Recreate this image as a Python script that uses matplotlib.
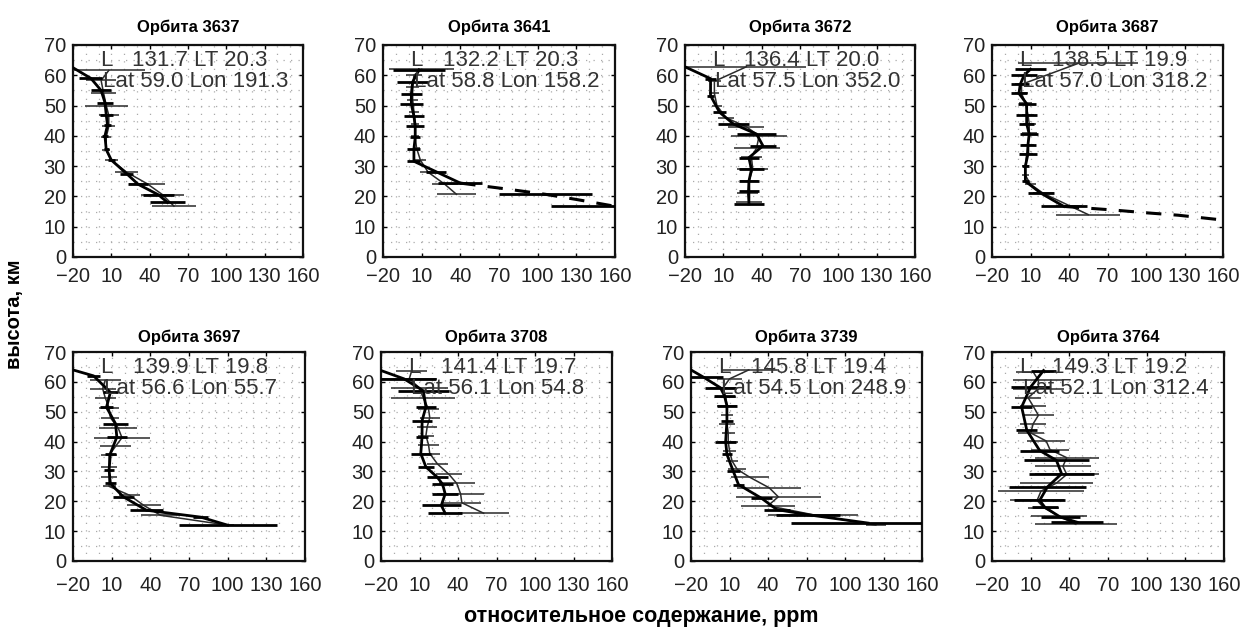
import matplotlib
matplotlib.use("Agg")
import matplotlib.pyplot as plt
from matplotlib.ticker import MultipleLocator, FixedLocator

plt.rcParams['font.family'] = ['Liberation Sans', 'DejaVu Sans']

# ---------------- data ----------------
orbits = ["3637", "3641", "3672", "3687", "3697", "3708", "3739", "3764"]
L_vals = ["131.7", "132.2", "136.4", "138.5", "139.9", "141.4", "145.8", "149.3"]
LT_vals = ["20.3", "20.3", "20.0", "19.9", "19.8", "19.7", "19.4", "19.2"]
Lat_vals = ["59.0", "58.8", "57.5", "57.0", "56.6", "56.1", "54.5", "52.1"]
Lon_vals = ["191.3", "158.2", "352.0", "318.2", "55.7", "54.8", "248.9", "312.4"]
x_ticks = [-20, 10, 40, 70, 100, 130, 160]
y_ticks = [0, 10, 20, 30, 40, 50, 60, 70]

# Orbit 3637
a_alt_3637 = [18, 20.5, 24, 27.5, 32, 35.5, 40, 43.5, 47, 51, 55, 59, 62.5]
a_val_3637 = [54, 47, 31, 22, 10, 6, 5, 7, 6, 5, 2, -6, -20]
a_err_3637 = [14, 12, 8, 5, 3, 2, 2, 3, 5, 6, 8, 9, 0]
b_alt_3637 = [16.8, 20.6, 24.2, 28, 32, 35.2, 39.6, 43.1, 46.8, 50, 54, 58.3, 61.6]
b_val_3637 = [59, 50, 38, 22, 10, 6, 6, 8, 8, 6, 4, 2, 8]
b_err_3637 = [17, 17, 14, 9, 5, 3, 4, 5, 8, 17, 10, 12, 28]
d_alt_3637 = []
d_val_3637 = []
d_err_3637 = []

# Orbit 3641
a_alt_3641 = [24.4, 28.2, 31.6, 35.7, 39.5, 43.2, 46.5, 50.4, 53.9, 57.8, 61.8]
a_val_3641 = [40, 21, 4, 4, 5, 5, 4, 2, 2, 3, 8]
a_err_3641 = [17, 8, 5, 5, 4, 7, 8, 9, 8, 12, 20]
b_alt_3641 = [20.7, 24, 28, 32, 36, 40, 44, 48, 52, 56, 60, 62]
b_val_3641 = [37, 28, 15, 9, 6, 5, 5, 4, 3, 3, 4, 10]
b_err_3641 = [15, 10, 6, 4, 3, 3, 3, 4, 4, 5, 6, 25]
d_alt_3641 = [24.4, 22.5, 20.7, 19.0, 16.9]
d_val_3641 = [40, 75, 106, 130, 158]
d_err_3641 = [0, 0, 36, 0, 48]

# Orbit 3672
a_alt_3672 = [17.5, 21.7, 25, 28.9, 32.8, 36.7, 40.6, 43.9, 47.8, 53.3, 58.9, 62.8]
a_val_3672 = [30, 30, 30, 32, 30, 41, 36, 18, 7, 0, 0, -20]
a_err_3672 = [12, 8, 8, 10, 8, 10, 15, 12, 5, 3, 4, 0]
b_alt_3672 = [18, 21, 25, 29, 33, 36, 40, 43, 46, 50, 54, 58, 62.8]
b_val_3672 = [30, 29, 30, 33, 32, 36, 38, 28, 12, 5, 3, 3, 28]
b_err_3672 = [10, 8, 7, 12, 8, 18, 22, 14, 6, 4, 4, 5, 47]
d_alt_3672 = []
d_val_3672 = []
d_err_3672 = []

# Orbit 3687
a_alt_3687 = [16.7, 21.1, 25, 30, 34, 37, 40.6, 44, 47, 50.6, 54, 57, 60, 62]
a_val_3687 = [36, 18, 6, 6, 8, 8, 9, 7, 7, 7, 1, 2, 5, 10]
a_err_3687 = [18, 10, 3, 3, 7, 6, 7, 6, 8, 7, 6, 7, 10, 12]
b_alt_3687 = [14, 17, 21, 24, 27, 30, 34, 37, 41, 44, 47, 51, 54, 57, 63.9]
b_val_3687 = [55, 40, 20, 10, 6, 6, 7, 8, 9, 9, 8, 6, 3, 3, 47]
b_err_3687 = [25, 10, 8, 4, 3, 3, 5, 5, 6, 5, 5, 5, 5, 5, 47]
d_alt_3687 = [16.7, 15.5, 14.6, 13.8, 12.2]
d_val_3687 = [36, 75, 100, 125, 160]
d_err_3687 = [0, 0, 0, 0, 0]

# Orbit 3697
a_alt_3697 = [12, 14.7, 17, 21.5, 26, 30.5, 36, 41.5, 46, 51.5, 56.5, 62, 64]
a_val_3697 = [100, 79, 37, 19, 9, 8, 9, 14, 13, 6, 9, -4, -20]
a_err_3697 = [38, 6, 13, 8, 4, 4, 4, 8, 10, 5, 6, 5, 0]
b_alt_3697 = [12, 15.3, 18.6, 22, 25, 28, 31.5, 35.4, 38.4, 41.3, 44.6, 48, 51.3, 54.7, 57.7, 60.5]
b_val_3697 = [100, 48, 35, 24, 8, 8, 8, 8, 13, 18, 15, 9, 8, 5, 3, 5]
b_err_3697 = [5, 15, 13, 8, 5, 6, 6, 6, 12, 22, 15, 7, 8, 8, 10, 12]
d_alt_3697 = []
d_val_3697 = []
d_err_3697 = []

# Orbit 3708
a_alt_3708 = [16, 18.6, 22.5, 25.7, 28, 31.5, 36, 41.5, 47, 51.6, 57, 61, 63.8]
a_val_3708 = [30, 27, 30, 28, 24, 15, 11, 12, 12, 15, 13, -2, -20]
a_err_3708 = [13, 15, 10, 8, 8, 6, 8, 5, 8, 8, 20, 25, 0]
b_alt_3708 = [16, 19.5, 22.5, 26, 29, 32.5, 36, 39, 42, 45, 48, 51, 54.5, 58, 61, 63.8]
b_val_3708 = [60, 43, 42, 39, 33, 24, 18, 17, 15, 16, 18, 17, 13, 10, 2, 4]
b_err_3708 = [20, 15, 18, 14, 10, 8, 8, 8, 6, 8, 8, 8, 25, 22, 22, 12]
d_alt_3708 = []
d_val_3708 = []
d_err_3708 = []

# Orbit 3739
a_alt_3739 = [12.7, 15.5, 17.2, 21, 25.6, 30, 35.7, 40, 47, 52, 55.4, 58, 61.5, 64]
a_val_3739 = [118, 71, 47, 35, 17, 13, 8, 7, 8, 8, 6, 3, -10, -20]
a_err_3739 = [60, 25, 10, 8, 4, 5, 4, 8, 5, 8, 8, 12, 15, 0]
b_alt_3739 = [12, 15.5, 18.5, 21.5, 24.5, 28, 30.7, 33.5, 37, 40, 43, 46, 49, 52, 55, 58, 61, 64]
b_val_3739 = [124, 75, 40, 48, 41, 26, 16, 12, 10, 9, 9, 8, 8, 8, 7, 5, 10, 25]
b_err_3739 = [8, 35, 21, 33, 25, 15, 7, 5, 5, 8, 5, 6, 5, 8, 8, 10, 10, 22]
d_alt_3739 = []
d_val_3739 = []
d_err_3739 = []

# Orbit 3764
a_alt_3764 = [13, 14.7, 18, 20.3, 24.8, 29.2, 33.7, 37, 43.8, 51.6, 58.3, 63.8]
a_val_3764 = [46, 33, 21, 17, 23, 34, 30, 17, 7, 3, 10, 20]
a_err_3764 = [20, 15, 10, 20, 30, 25, 25, 15, 8, 8, 15, 10]
b_alt_3764 = [12.3, 15, 17.9, 20.3, 23.4, 26.1, 29, 31.7, 34.6, 37.3, 40.2, 42.9, 46, 48.8, 51.8, 54.7, 57.7, 60.5, 63.3]
b_val_3764 = [45, 32, 20, 15, 18, 30, 38, 35, 38, 25, 22, 10, 12, 16, 12, 8, 16, 16, 12]
b_err_3764 = [32, 22, 12, 21, 33, 28, 25, 22, 25, 15, 15, 10, 10, 12, 10, 10, 20, 20, 13]
d_alt_3764 = []
d_val_3764 = []
d_err_3764 = []

panels = [
    (a_alt_3637, a_val_3637, a_err_3637, b_alt_3637, b_val_3637, b_err_3637, d_alt_3637, d_val_3637, d_err_3637),
    (a_alt_3641, a_val_3641, a_err_3641, b_alt_3641, b_val_3641, b_err_3641, d_alt_3641, d_val_3641, d_err_3641),
    (a_alt_3672, a_val_3672, a_err_3672, b_alt_3672, b_val_3672, b_err_3672, d_alt_3672, d_val_3672, d_err_3672),
    (a_alt_3687, a_val_3687, a_err_3687, b_alt_3687, b_val_3687, b_err_3687, d_alt_3687, d_val_3687, d_err_3687),
    (a_alt_3697, a_val_3697, a_err_3697, b_alt_3697, b_val_3697, b_err_3697, d_alt_3697, d_val_3697, d_err_3697),
    (a_alt_3708, a_val_3708, a_err_3708, b_alt_3708, b_val_3708, b_err_3708, d_alt_3708, d_val_3708, d_err_3708),
    (a_alt_3739, a_val_3739, a_err_3739, b_alt_3739, b_val_3739, b_err_3739, d_alt_3739, d_val_3739, d_err_3739),
    (a_alt_3764, a_val_3764, a_err_3764, b_alt_3764, b_val_3764, b_err_3764, d_alt_3764, d_val_3764, d_err_3764),
]

# ---------------- layout ----------------
W, H = 1240, 628
fig = plt.figure(figsize=(W / 100, H / 100), dpi=100)
fig.patch.set_facecolor('white')

px_boxes = [
    (73, 45, 303, 257), (383, 45, 615, 257), (685, 45, 915, 257), (992, 45, 1223, 257),
    (73, 352, 305, 561), (381, 352, 612, 561), (691, 352, 922, 561), (992, 352, 1224, 561),
]

for i, (l, t, r, b) in enumerate(px_boxes):
    ax = fig.add_axes([l / W, 1 - b / H, (r - l) / W, (b - t) / H])
    a_alt, a_val, a_err, b_alt, b_val, b_err, d_alt, d_val, d_err = panels[i]
    top_row = i < 4

    ax.set_xlim(-20, 160)
    ax.set_ylim(0, 70)
    ax.xaxis.set_major_locator(FixedLocator(x_ticks))
    ax.yaxis.set_major_locator(FixedLocator(y_ticks))
    ax.xaxis.set_minor_locator(MultipleLocator(10))
    ax.yaxis.set_minor_locator(MultipleLocator(5))
    ax.grid(which='both', linestyle=(0, (1, 5)), color='#aaaaaa', linewidth=0.9)
    ax.set_axisbelow(True)
    ax.tick_params(which='major', direction='in', length=3, width=1, top=True, right=True,
                   labelsize=14.5, labelcolor='#222222')
    ax.tick_params(axis='x', which='major', pad=7 if top_row else 11)
    ax.tick_params(axis='y', which='major', pad=5)
    ax.tick_params(which='minor', length=0)
    for s in ax.spines.values():
        s.set_linewidth(1.6)
        s.set_color('#111111')

    # thin series
    ax.errorbar(b_val, b_alt, xerr=b_err, color='#2a2a2a', lw=1.1, elinewidth=1.1,
                capsize=0, zorder=3)
    # thick series
    ax.errorbar(a_val, a_alt, xerr=a_err, color='#000000', lw=2.0, elinewidth=2.0,
                capsize=0, zorder=4)
    if d_alt:
        ax.plot(d_val, d_alt, color='#000000', lw=2.2, linestyle=(0, (5, 4)), zorder=4)
        ax.errorbar(d_val, d_alt, xerr=d_err, fmt='none', ecolor='#000000',
                    elinewidth=2.0, capsize=0, zorder=4)

    ax.text(1.4, 64.8, "L", fontsize=16, color='#333333', va='center', ha='left', zorder=5)
    ax.text(26.4, 64.8, f"{L_vals[i]} LT {LT_vals[i]}", fontsize=16, color='#333333',
            va='center', ha='left', zorder=5)
    ax.text(3.7, 57.9, f"Lat {Lat_vals[i]} Lon {Lon_vals[i]}", fontsize=16, color='#333333',
            va='center', ha='left', zorder=5)

    ax.set_title(f"Орбита {orbits[i]}", fontsize=12, fontweight='bold',
                 pad=9.5 if top_row else 7)

fig.text(0.0113, 0.50, "высота, км", rotation=90, fontsize=14.5, fontweight='bold',
         ha='center', va='center')
fig.text(0.517, 0.019, "относительное содержание, ppm", fontsize=15.5, fontweight='bold',
         ha='center', va='center')

fig.savefig("out.png", dpi=100)
